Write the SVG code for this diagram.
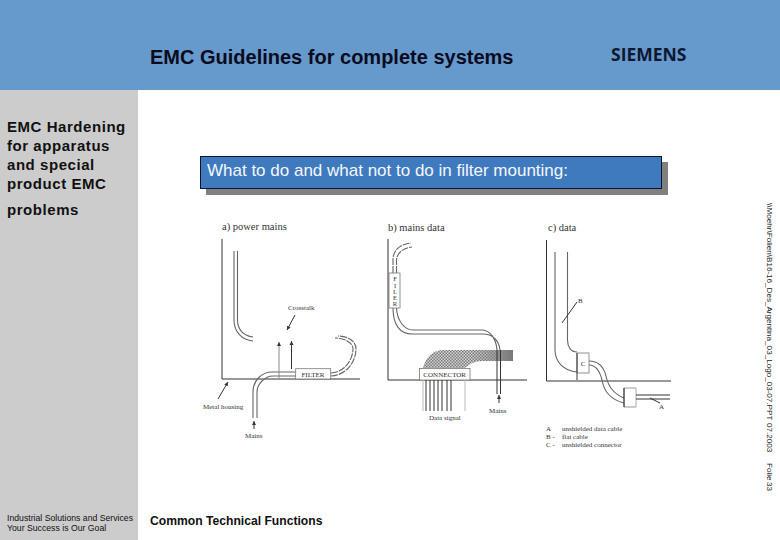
<svg xmlns="http://www.w3.org/2000/svg" width="780" height="540" viewBox="0 0 780 540">
<style>
.s{font-family:"Liberation Sans",Arial,sans-serif}
.f{font-family:"Liberation Serif","Times New Roman",serif;fill:#333}
.side{font-size:15px;font-weight:bold;fill:#111;letter-spacing:.55px}
.t{font-size:10.500px}.l{font-size:7px}
.d{fill:none;stroke:#333;stroke-width:1}
.m{fill:none;stroke:#888;stroke-width:1}
.h{fill:none;stroke:#666;stroke-width:1.100}
.b{fill:#fff;stroke:#777;stroke-width:.8}
.r{font-size:8.100px;fill:#222}
</style>
<defs>
<marker id="ah" markerWidth="5" markerHeight="5" refX="4" refY="2.5" orient="auto" markerUnits="userSpaceOnUse"><path d="M0 .5L4 2.5L0 4.5Z" fill="#333"/></marker>
<pattern id="chk" width="3" height="3" patternUnits="userSpaceOnUse"><rect width="3" height="3" fill="#d8d8d8"/><rect width="1.5" height="1.5" fill="#777"/><rect x="1.5" y="1.5" width="1.5" height="1.5" fill="#777"/></pattern>
<linearGradient id="fade"><stop offset="0" stop-color="#888" stop-opacity="0"/><stop offset=".6" stop-color="#888" stop-opacity=".7"/><stop offset="1" stop-color="#777" stop-opacity="1"/></linearGradient>
</defs>
<g id="frame">
<rect width="780" height="540" fill="#fff"/>
<rect width="780" height="90" fill="#6699cc"/>
<rect y="90" width="138" height="450" fill="#cccccc"/>
</g>
<g id="header">
<text class="s" x="150" y="64" font-size="20" font-weight="bold" fill="#0b0b1e">EMC Guidelines for complete systems</text>
<text x="611" y="61" font-family="'Open Sans','Noto Sans',sans-serif" font-size="17.500" font-weight="700" fill="#0d1830">SIEMENS</text>
</g>
<g id="sidebar">
<text class="s side" x="7" y="132">EMC Hardening</text>
<text class="s side" x="7" y="151">for apparatus</text>
<text class="s side" x="7" y="170">and special</text>
<text class="s side" x="7" y="189">product EMC</text>
<text class="s side" x="7" y="215">problems</text>
<text class="s" x="7" y="521" font-size="8.700" fill="#111">Industrial Solutions and Services</text>
<text class="s" x="7" y="531" font-size="8.700" fill="#111">Your Success is Our Goal</text>
</g>
<text id="footer" class="s" x="150" y="525" font-size="12.150" font-weight="bold" fill="#111">Common Technical Functions</text>
<g id="banner">
<rect x="206" y="162" width="462" height="33" fill="#808080"/>
<rect x="200.500" y="156.500" width="461" height="32" fill="#3f7abf" stroke="#0a1430"/>
<text class="s" x="207" y="176" font-size="17" fill="#f4f7fb">What to do and what not to do in filter mounting:</text>
</g>
<g id="panel-a">
<text class="f t" x="222" y="230">a) power mains</text>
<path class="d" d="M222 239V379H360"/>
<path class="h" d="M234 251V320C234 332 242 340 253 341M237.500 251V320C237.500 330 244 336 253 337"/>
<path class="h" d="M253 418V392C253 380 262 372 272 372H296M257 418V392C257 384 265 376 273 376H296"/>
<path class="h" d="M331 373C346 372 353 358 353 349C353 342 344 338 335 338M331 376C348 375 356 360 356 349C356 340 346 336 338 336" stroke-dasharray="7 1"/>
<rect class="b" x="295.700" y="368.700" width="35" height="10.300"/>
<text class="f l" x="313" y="376.500" text-anchor="middle">FILTER</text>
<path class="m" d="M279 378V342" marker-end="url(#ah)"/>
<path class="d" d="M291.500 369V341" marker-end="url(#ah)"/>
<path class="d" d="M295 315L287 330" marker-end="url(#ah)"/>
<path class="d" d="M218 399L228 382" marker-end="url(#ah)"/>
<path class="d" d="M254 429V421" marker-end="url(#ah)"/>
<text class="f l" x="288" y="310">Crosstalk</text>
<text class="f l" x="203" y="409">Metal housing</text>
<text class="f l" x="245" y="438">Mains</text>
</g>
<g id="panel-b">
<text class="f t" x="388" y="231">b) mains data</text>
<path class="d" d="M388 239V380H527"/>
<path class="h" d="M393 273V260C393 250 400 244 411 243M396.500 273V261C396.500 253 403 248 412 247" stroke-dasharray="7 1"/>
<path d="M423 368C426 356 434 350 443 350H513V361H483C474 361 470 364 465 368Z" fill="url(#chk)"/>
<rect x="470" y="350" width="43" height="11" fill="url(#fade)"/>
<path class="h" d="M393 308C393 325 400 334 412 334H483C492 334 499 340 500 350M396.500 308C397 320 404 330 413 330H483C490 331 496 338 497 350"/>
<rect class="b" x="419.500" y="368.500" width="50.500" height="11.500"/>
<text class="f l" x="444.700" y="377" text-anchor="middle">CONNECTOR</text>
<rect class="b" x="389" y="273" width="11" height="35"/>
<text class="f" font-size="6.500" text-anchor="middle"><tspan x="395" y="281">F</tspan><tspan x="395" y="287.500">I</tspan><tspan x="395" y="294">L</tspan><tspan x="395" y="300">E</tspan><tspan x="395" y="306">R</tspan></text>
<path class="d" d="M426 380V411M430 380V411M434 380V411M438 380V411M442 380V411M447 380V411M451 380V411M497 350V394M500.500 350V394"/>
<path d="M423 380V411M465 380V411" stroke="#bbb" fill="none"/>
<path class="d" d="M499 403V395" marker-end="url(#ah)"/>
<text class="f l" x="489" y="413">Mains</text>
<text class="f l" x="429" y="420">Data signal</text>
</g>
<g id="panel-c">
<text class="f t" x="548" y="231">c) data</text>
<path class="d" d="M546.500 240V381H671"/>
<path class="h" d="M555 252V350C555 362 564 371 577 372"/>
<path class="h" d="M567.500 252V340C567.500 347 571 352 577 352"/>
<rect class="b" x="577" y="353" width="12" height="20"/>
<path class="d" d="M577 353V380"/>
<text class="f l" x="583" y="366" text-anchor="middle">C</text>
<path class="h" d="M589 361C600 361 604 368 606 376C608 386 614 394 624 398M589 365C596 365 600 372 602 380C604 392 612 400 624 403"/>
<path d="M636 388H624V407H636" fill="#fff" stroke="#999"/>
<path d="M624 388V407" stroke="#222"/>
<path d="M636 388V407" stroke="#aaa"/>
<path class="d" d="M636 395H670M636 399H670"/>
<path class="d" d="M650 398L660 403"/>
<path class="d" d="M577 302L562 323"/>
<text class="f l" x="578" y="303">B</text>
<text class="f l" x="659" y="409">A</text>
<text class="f l" x="546" y="431">A</text>
<text class="f l" x="562" y="431">unshielded data cable</text>
<text class="f l" x="546" y="439">B -</text>
<text class="f l" x="562" y="439">flat cable</text>
<text class="f l" x="546" y="447">C -</text>
<text class="f l" x="562" y="447">unshielded connector</text>
</g>
<g id="sidenote" class="s r">
<text transform="translate(767 203) rotate(90)">\\Moehr\Folien\B16-16_Des_Argentina_03_Logo_03-07.PPT</text>
<text transform="translate(767 423) rotate(90)">07.2003</text>
<text transform="translate(767 463) rotate(90)">Folie</text>
<text transform="translate(767 482) rotate(90)">33</text>
</g>
</svg>
